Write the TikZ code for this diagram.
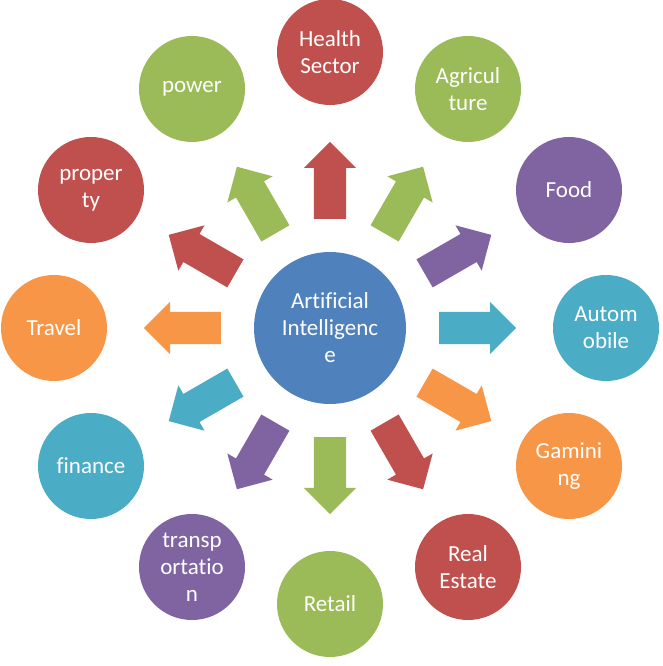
\documentclass[tikz,border=0pt]{standalone}
\usepackage{fontspec}
\setmainfont{Carlito}[Ligatures=CommonOff]
\usetikzlibrary{shapes.arrows}
\definecolor{aired}{HTML}{C0504D}
\definecolor{aigreen}{HTML}{9BBB59}
\definecolor{aipurple}{HTML}{8064A2}
\definecolor{aiteal}{HTML}{4BACC6}
\definecolor{aiorange}{HTML}{F79646}
\definecolor{aiblue}{HTML}{4F81BD}
\tikzset{
  field/.style={circle,draw=none,minimum size=106bp,inner sep=0pt,align=center,text=white,
    font=\fontsize{23bp}{27bp}\selectfont},
  hub/.style={field,minimum size=152bp},
  arrowbox/.style={single arrow,draw=none,anchor=tail,minimum height=77bp,inner xsep=0pt,inner ysep=16bp,
    single arrow head extend=10bp,single arrow tip angle=90},
}
\begin{document}
\begin{tikzpicture}
\useasboundingbox (0bp,0bp) rectangle (663bp,666bp);
%%
\node (ai) at (330bp,338bp) [hub,fill=aiblue] {Artificial\\Intelligenc\\e};
%% outer fields
  \node (health) at (330bp,614bp) [field,fill=aired] {Health\\Sector};
  \node (agriculture) at (468bp,577bp) [field,fill=aigreen] {Agricul\\ture};
  \node (food) at (569bp,476bp) [field,fill=aipurple] {Food};
  \node (automobile) at (606bp,338bp) [field,fill=aiteal] {Autom\\obile};
  \node (gamining) at (569bp,200bp) [field,fill=aiorange] {Gamini\\ng};
  \node (realestate) at (468bp,99bp) [field,fill=aired] {Real\\Estate};
  \node (retail) at (330bp,62bp) [field,fill=aigreen] {Retail};
  \node (transportation) at (192bp,99bp) [field,fill=aipurple] {transp\\ortatio\\n};
  \node (finance) at (91bp,200bp) [field,fill=aiteal] {finance};
  \node (travel) at (54bp,338bp) [field,fill=aiorange] {Travel};
  \node (property) at (91bp,476bp) [field,fill=aired] {proper\\ty};
  \node (power) at (192bp,577bp) [field,fill=aigreen] {power};
%% arrows (placed by their tails)
  \node (ai-health) at (330bp,447bp) [arrowbox,fill=aired,rotate=90] {};
  \node (ai-agriculture) at (384.5bp,432.4bp) [arrowbox,fill=aigreen,rotate=60] {};
  \node (ai-food) at (424.4bp,392.5bp) [arrowbox,fill=aipurple,rotate=30] {};
  \node (ai-automobile) at (439bp,338bp) [arrowbox,fill=aiteal,rotate=0] {};
  \node (ai-gamining) at (424.4bp,283.5bp) [arrowbox,fill=aiorange,rotate=-30] {};
  \node (ai-realestate) at (384.5bp,243.6bp) [arrowbox,fill=aired,rotate=-60] {};
  \node (ai-retail) at (330bp,229bp) [arrowbox,fill=aigreen,rotate=-90] {};
  \node (ai-transportation) at (275.5bp,243.6bp) [arrowbox,fill=aipurple,rotate=-120] {};
  \node (ai-finance) at (235.6bp,283.5bp) [arrowbox,fill=aiteal,rotate=-150] {};
  \node (ai-travel) at (221bp,338bp) [arrowbox,fill=aiorange,rotate=180] {};
  \node (ai-property) at (235.6bp,392.5bp) [arrowbox,fill=aired,rotate=150] {};
  \node (ai-power) at (275.5bp,432.4bp) [arrowbox,fill=aigreen,rotate=120] {};
%
\end{tikzpicture}
\end{document}
